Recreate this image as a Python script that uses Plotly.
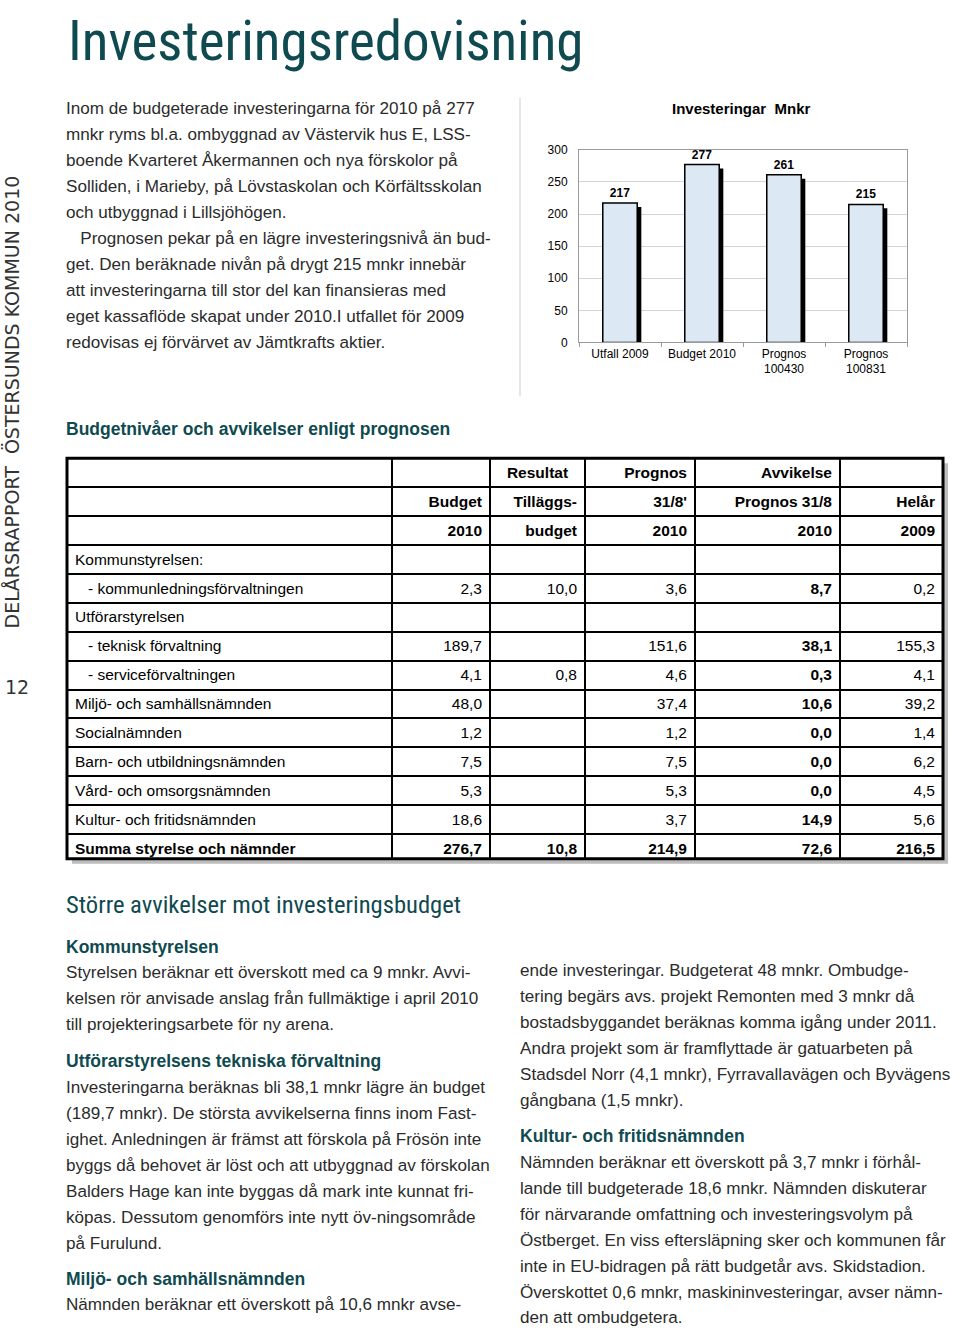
import plotly.graph_objects as go

W, H = 960, 1330

# --- bar chart data ---
categories = ["Utfall 2009", "Budget 2010", "Prognos<br>100430", "Prognos<br>100831"]
investeringar = [217, 277, 261, 215]

# --- table data ---
rows = ["Kommunstyrelsen:", "   - kommunledningsförvaltningen", "Utförarstyrelsen",
        "   - teknisk förvaltning", "   - serviceförvaltningen", "Miljö- och samhällsnämnden",
        "Socialnämnden", "Barn- och utbildningsnämnden", "Vård- och omsorgsnämnden",
        "Kultur- och fritidsnämnden", "Summa styrelse och nämnder"]
budget_2010 = [None, 2.3, None, 189.7, 4.1, 48.0, 1.2, 7.5, 5.3, 18.6, 276.7]
tillaggsbudget = [None, 10.0, None, None, 0.8, None, None, None, None, None, 10.8]
prognos_2010 = [None, 3.6, None, 151.6, 4.6, 37.4, 1.2, 7.5, 5.3, 3.7, 214.9]
avvikelse_2010 = [None, 8.7, None, 38.1, 0.3, 10.6, 0.0, 0.0, 0.0, 14.9, 72.6]
helar_2009 = [None, 0.2, None, 155.3, 4.1, 39.2, 1.4, 6.2, 4.5, 5.6, 216.5]

head_row1 = ["", "", "Resultat", "Prognos", "Avvikelse", ""]
head_row2 = ["", "Budget", "Tilläggs-", "31/8'", "Prognos 31/8", "Helår"]
head_row3 = ["", "2010", "budget", "2010", "2010", "2009"]

# --- page text ---
intro = [
    "Inom de budgeterade investeringarna för 2010 på 277",
    "mnkr ryms bl.a. ombyggnad av Västervik hus E, LSS-",
    "boende Kvarteret Åkermannen och nya förskolor på",
    "Solliden, i Marieby, på Lövstaskolan och Körfältsskolan",
    "och utbyggnad i Lillsjöhögen.",
    "   Prognosen pekar på en lägre investeringsnivå än bud-",
    "get. Den beräknade nivån på drygt 215 mnkr innebär",
    "att investeringarna till stor del kan finansieras med",
    "eget kassaflöde skapat under 2010.I utfallet för 2009",
    "redovisas ej förvärvet av Jämtkrafts aktier.",
]
left_blocks = [
    ("Kommunstyrelsen", 947, [
        "Styrelsen beräknar ett överskott med ca 9 mnkr. Avvi-",
        "kelsen rör anvisade anslag från fullmäktige i april 2010",
        "till projekteringsarbete för ny arena."]),
    ("Utförarstyrelsens tekniska förvaltning", 1062, [
        "Investeringarna beräknas bli 38,1 mnkr lägre än budget",
        "(189,7 mnkr). De största avvikelserna finns inom Fast-",
        "ighet. Anledningen är främst att förskola på Frösön inte",
        "byggs då behovet är löst och att utbyggnad av förskolan",
        "Balders Hage kan inte byggas då mark inte kunnat fri-",
        "köpas. Dessutom genomförs inte nytt öv-ningsområde",
        "på Furulund."]),
    ("Miljö- och samhällsnämnden", 1280, [
        "Nämnden beräknar ett överskott på 10,6 mnkr avse-"]),
]
right_blocks = [
    (None, 945, [
        "ende investeringar. Budgeterat 48 mnkr. Ombudge-",
        "tering begärs avs. projekt Remonten med 3 mnkr då",
        "bostadsbyggandet beräknas komma igång under 2011.",
        "Andra projekt som är framflyttade är gatuarbeten på",
        "Stadsdel Norr (4,1 mnkr), Fyrravallavägen och Byvägens",
        "gångbana (1,5 mnkr)."]),
    ("Kultur- och fritidsnämnden", 1137, [
        "Nämnden beräknar ett överskott på 3,7 mnkr i förhål-",
        "lande till budgeterade 18,6 mnkr. Nämnden diskuterar",
        "för närvarande omfattning och investeringsvolym på",
        "Östberget. En viss eftersläpning sker och kommunen får",
        "inte in EU-bidragen på rätt budgetår avs. Skidstadion.",
        "Överskottet 0,6 mnkr, maskininvesteringar, avser nämn-",
        "den att ombudgetera."]),
]

TEAL = "#0f4a50"
BODY = "#2b2b2b"
BODY_FONT = "Liberation Sans, Arial, sans-serif"
HEAD_FONT = "Liberation Sans Narrow, Roboto Condensed, Roboto, sans-serif"
NB = "\u00a0"


def px(x):
    return x / W


def py(y):
    # the snapshot comes out ~0.9% squeezed vertically (measured), undo that
    y = (y - 6) / 0.991
    return 1 - y / H


# plot area of the bar chart in page pixels
PX0, PX1, PY0, PY1 = 579, 907, 149, 342
shift = 4 * 300 / (PY1 - PY0)  # shadow drops ~4px
bw = 0.42

fig = go.Figure()
fig.add_trace(go.Bar(
    x=categories, y=[v - shift for v in investeringar], width=bw, offset=-bw / 2 + 0.05,
    marker=dict(color="black", line=dict(width=0)), hoverinfo="skip", showlegend=False))
fig.add_trace(go.Bar(
    x=categories, y=investeringar, width=bw, offset=-bw / 2,
    marker=dict(color="#dde8f5", line=dict(color="black", width=1.5)),
    text=investeringar, textposition="outside", cliponaxis=False,
    textfont=dict(family=BODY_FONT, size=12, color="black"),
    texttemplate="<b>%{text}</b>", showlegend=False))

# --- table ---
def fmt(v):
    if v is None:
        return ""
    return f"{v:.1f}".replace(".", ",")


n = len(rows)
last = n - 1
# no plain spaces / markup in cells, otherwise plotly re-measures and grows the rows
cols = [[head_row2[0], head_row3[0]] + [r.replace(" ", NB) for r in rows]]
weights = [["bold", "bold"] + ["bold" if i == last else "normal" for i in range(n)]]
for j, data in enumerate([budget_2010, tillaggsbudget, prognos_2010, avvikelse_2010, helar_2009], start=1):
    cols.append([head_row2[j].replace(" ", NB), head_row3[j]] + [fmt(v) for v in data])
    weights.append(["bold", "bold"] + ["bold" if (j == 4 or i == last) else "normal" for i in range(n)])

TX0, TX1, TY0, TY1 = 67, 943, 458, 859
rh = (py(TY0) - py(TY1)) * H / (n + 3)

fig.add_trace(go.Table(
    domain=dict(x=[px(TX0), px(TX1)], y=[py(TY1), py(TY0)]),
    columnwidth=[325, 98, 95, 110, 145, 103],
    header=dict(values=head_row1, height=rh, fill_color="white", line=dict(color="black", width=2),
                align=["left", "right", "center", "right", "right", "right"],
                font=dict(family=BODY_FONT, size=15.5, color="black", weight="bold")),
    cells=dict(values=cols, height=rh, fill_color="white", line=dict(color="black", width=2),
               align=["left", "right", "right", "right", "right", "right"],
               font=dict(family=BODY_FONT, size=15.5, color="black", weight="normal")),
))
# plotly.js accepts per-cell (2D) weights, the python validator only 1D
fig._data[-1]["cells"]["font"]["weight"] = weights

fig.update_layout(
    width=W, height=H, margin=dict(l=0, r=0, t=0, b=0),
    paper_bgcolor="white", plot_bgcolor="white",
    barmode="overlay",
    xaxis=dict(domain=[px(PX0), px(PX1)], showline=True, mirror=True, linecolor="#9a9a9a",
               ticks="outside", ticklen=4, tickcolor="#9a9a9a", tickson="boundaries",
               tickfont=dict(family=BODY_FONT, size=12, color="black"), fixedrange=True),
    yaxis=dict(domain=[py(PY1), py(PY0)], range=[0, 300], dtick=50, showline=True, mirror=True,
               linecolor="#9a9a9a", gridcolor="#d4d4d4", zeroline=False, ticklabelstandoff=8,
               tickfont=dict(family=BODY_FONT, size=12, color="black"), fixedrange=True),
)

shapes = [
    # thin frame line left of the chart
    dict(type="line", xref="paper", yref="paper", x0=px(520), x1=px(520), y0=py(97), y1=py(396),
         line=dict(color="#cfcfcf", width=1)),
    # table shadow
    dict(type="rect", xref="paper", yref="paper", x0=px(TX0 + 5), x1=px(TX1 + 5), y0=py(TY1 + 5), y1=py(TY0 + 5),
         fillcolor="#bdbdbd", line=dict(width=0), layer="below"),
    # table outer border
    dict(type="rect", xref="paper", yref="paper", x0=px(TX0), x1=px(TX1), y0=py(TY1), y1=py(TY0),
         line=dict(color="black", width=3)),
]
fig.update_layout(shapes=shapes)

ann = []


def txt(x, y, s, size=17.1, color=BODY, family=BODY_FONT, **kw):
    ann.append(dict(x=px(x), y=py(y), xref="paper", yref="paper", text=s, showarrow=False,
                    xanchor=kw.pop("xanchor", "left"), yanchor=kw.pop("yanchor", "middle"),
                    font=dict(size=size, color=color, family=family), **kw))


# title box starts at the top edge so nothing is cut
ann.append(dict(x=px(66), y=1, xref="paper", yref="paper", text="Investeringsredovisning",
                showarrow=False, xanchor="left", yanchor="top",
                font=dict(size=55, color=TEAL, family=HEAD_FONT)))
txt(741, 108, "<b>Investeringar  Mnkr</b>", size=15, color="black", xanchor="center")

for i, line in enumerate(intro):
    txt(64, 108 + 26 * i, line.replace(" ", NB) if line.startswith(" ") else line)

txt(64, 429, "<b>Budgetnivåer och avvikelser enligt prognosen</b>", size=17.5, color=TEAL)
txt(64, 905, "Större avvikelser mot investeringsbudget", size=24.6, color=TEAL, family=HEAD_FONT)

for x0, blocks in [(64, left_blocks), (518, right_blocks)]:
    for head, y, lines in blocks:
        if head:
            txt(x0, y, f"<b>{head}</b>", size=17.5, color=TEAL)
        for i, line in enumerate(lines):
            txt(x0, y + 26 * (i + 1), line)

txt(12, 402, "DELÅRSRAPPORT" + NB * 2 + "ÖSTERSUNDS KOMMUN 2010", size=19, color="#333333",
    family="DejaVu Sans, sans-serif", textangle=-90, xanchor="center")
txt(17, 687, "12", size=19, color="#333333", family="DejaVu Sans, sans-serif", xanchor="center")

fig.update_layout(annotations=ann)

fig.write_html("out.html", config={"displayModeBar": False},
               post_script="document.body.style.margin='0';document.body.style.overflow='hidden';")
